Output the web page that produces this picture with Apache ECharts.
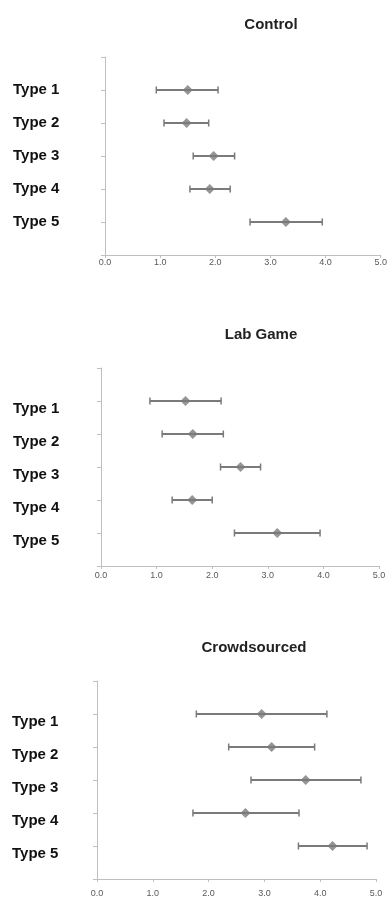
<!DOCTYPE html>
<html>
<head>
<meta charset="utf-8">
<script src="https://cdn.jsdelivr.net/npm/echarts@6/dist/echarts.min.js"></script>
<style>
html,body{margin:0;padding:0;background:#fff;}
#chart{width:390px;height:899px;}
</style>
</head>
<body>
<div id="chart"></div>
<script>
var categories = ['Type 1', 'Type 2', 'Type 3', 'Type 4', 'Type 5'];
var xTicks = ['0.0', '1.0', '2.0', '3.0', '4.0', '5.0'];
var panelTitles = ['Control', 'Lab Game', 'Crowdsourced'];

var controlMean = [1.50, 1.48, 1.97, 1.90, 3.28];
var controlLow  = [0.93, 1.07, 1.60, 1.54, 2.63];
var controlHigh = [2.05, 1.88, 2.35, 2.27, 3.94];

var labMean = [1.52, 1.65, 2.51, 1.64, 3.17];
var labLow  = [0.88, 1.10, 2.15, 1.28, 2.40];
var labHigh = [2.16, 2.20, 2.87, 2.00, 3.94];

var crowdMean = [2.95, 3.13, 3.74, 2.66, 4.22];
var crowdLow  = [1.78, 2.36, 2.76, 1.72, 3.61];
var crowdHigh = [4.12, 3.90, 4.73, 3.62, 4.84];

var panels = [
  {mean: controlMean, low: controlLow, high: controlHigh,
   grid: {left: 105, right: 8, top: 57, height: 198},
   title: {left: 266, top: 12}, labelMargin: 92, labelAlign: 'middle', xMargin: 3},
  {mean: labMean, low: labLow, high: labHigh,
   grid: {left: 101, right: 11, top: 368, height: 198},
   title: {left: 256, top: 322}, labelMargin: 88, labelAlign: 'top', xMargin: 5},
  {mean: crowdMean, low: crowdLow, high: crowdHigh,
   grid: {left: 97, right: 14, top: 681, height: 198},
   title: {left: 249, top: 635}, labelMargin: 85, labelAlign: 'top', xMargin: 10}
];

var axisColor = '#bfbfbf';
var markColor = '#7a7a7a';
var option = {
  animation: false,
  backgroundColor: '#ffffff',
  title: [], grid: [], xAxis: [], yAxis: [], series: []
};

panels.forEach(function (p, i) {
  option.title.push({
    text: panelTitles[i], left: p.title.left, top: p.title.top, textAlign: 'center',
    textStyle: {fontFamily: 'Liberation Sans', fontSize: 15, fontWeight: 'bold', color: '#222'}
  });
  option.grid.push(p.grid);
  option.xAxis.push({
    type: 'value', gridIndex: i, min: 0, max: 5, interval: 1, position: 'bottom',
    axisLine: {show: true, onZero: false, lineStyle: {color: axisColor, width: 1}},
    axisTick: {show: true, length: 3, lineStyle: {color: axisColor}},
    splitLine: {show: false},
    axisLabel: {
      margin: p.xMargin, fontFamily: 'Liberation Sans', fontSize: 9, color: '#595959',
      formatter: function (v) { return xTicks[Math.round(v)]; }
    }
  });
  option.yAxis.push({
    type: 'value', gridIndex: i, min: 0, max: 6, interval: 1, inverse: true, position: 'left',
    axisLine: {show: true, onZero: false, lineStyle: {color: axisColor, width: 1}},
    axisTick: {show: true, length: 4, lineStyle: {color: axisColor}},
    splitLine: {show: false},
    axisLabel: {
      margin: p.labelMargin, align: 'left', verticalAlign: p.labelAlign, lineHeight: 16,
      fontFamily: 'Liberation Sans', fontSize: 15, fontWeight: 'bold', color: '#111',
      formatter: function (v) { return (v >= 1 && v <= 5) ? categories[v - 1] : ''; }
    }
  });
  var errData = [], ptData = [];
  for (var k = 0; k < categories.length; k++) {
    errData.push([p.low[k], p.high[k], k + 1]);
    ptData.push([p.mean[k], k + 1]);
  }
  option.series.push({
    type: 'custom', xAxisIndex: i, yAxisIndex: i, data: errData,
    encode: {x: [0, 1], y: 2},
    renderItem: function (params, api) {
      var a = api.coord([api.value(0), api.value(2)]);
      var b = api.coord([api.value(1), api.value(2)]);
      var h = 3.5;
      var st = {stroke: markColor, lineWidth: 2};
      return {type: 'group', children: [
        {type: 'line', shape: {x1: a[0], y1: a[1], x2: b[0], y2: b[1]}, style: st},
        {type: 'line', shape: {x1: a[0], y1: a[1] - h, x2: a[0], y2: a[1] + h}, style: {stroke: markColor, lineWidth: 1.5}},
        {type: 'line', shape: {x1: b[0], y1: b[1] - h, x2: b[0], y2: b[1] + h}, style: {stroke: markColor, lineWidth: 1.5}}
      ]};
    }
  });
  option.series.push({
    type: 'scatter', xAxisIndex: i, yAxisIndex: i, data: ptData,
    symbol: 'diamond', symbolSize: 10, itemStyle: {color: markColor}
  });
});

var chart = echarts.init(document.getElementById('chart'), null, {renderer: 'canvas'});
chart.setOption(option);
</script>
</body>
</html>
